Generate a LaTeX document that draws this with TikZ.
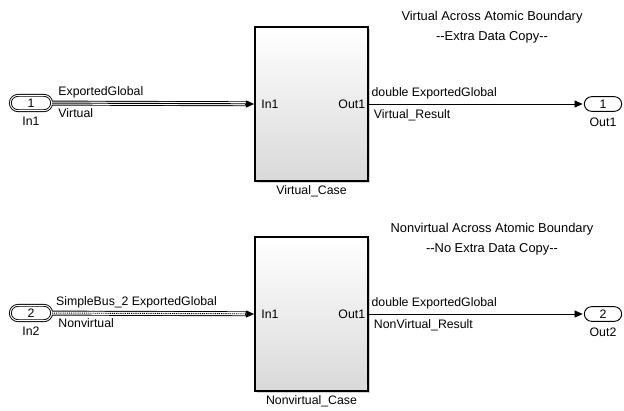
\documentclass[tikz,border=0pt]{standalone}
\usepackage{fontspec}
\setmainfont{Liberation Sans}
\usetikzlibrary{arrows.meta,positioning,shapes.misc,shadows}

\begin{document}
\begin{tikzpicture} [
        x=0.03cm, y=-0.03cm,
        every node/.style={font=\fontsize{10.5}{12}\selectfont, inner sep=1pt},
        subsys/.style={draw=black, line width=1.5pt, minimum width=3.39cm, minimum height=4.62cm,
            top color=white, bottom color=black!15,
            drop shadow={shadow xshift=1.5pt, shadow yshift=-1.5pt, opacity=0.35}},
        inport/.style={rounded rectangle, draw=black, double=white, double distance=0.8pt,
            line width=0.8pt, minimum width=1.24cm, minimum height=0.46cm, fill=white, inner sep=0pt},
        outport/.style={rounded rectangle, draw=black, line width=0.8pt,
            minimum width=1.12cm, minimum height=0.44cm, fill=white, inner sep=0pt},
        sig/.style={-{Triangle[length=7pt,width=6pt]}, line width=0.7pt, shorten >=1pt},
        tip/.style={-{Triangle[length=7pt,width=6pt]}, line width=0.7pt},
        busout/.style={line width=4.2pt, shorten >=5pt},
        busin/.style={draw=white, line width=2.6pt, shorten >=5pt},
        vcore/.style={line width=0.8pt, shorten >=5pt},
        nvcore/.style={line width=0.8pt, shorten >=5pt, dash pattern=on 0.8pt off 0.8pt},
        note/.style={align=center, font=\fontsize{11}{17}\selectfont}
    ]
    \useasboundingbox (0,0) rectangle (624,410);

    % subsystems
    \node[subsys] (vc)  at (311.5,104) {};
    \node[subsys] (nvc) at (311.5,314) {};
    \node[below=2pt of vc]  (vcname)  {Virtual\_Case};
    \node[below=2pt of nvc] (nvcname) {Nonvirtual\_Case};
    \node[anchor=west] (vcin)   at ([xshift=5pt]vc.west)   {In1};
    \node[anchor=east] (vcout)  at ([xshift=-2pt]vc.east)  {Out1};
    \node[anchor=west] (nvcin)  at ([xshift=5pt]nvc.west)  {In1};
    \node[anchor=east] (nvcout) at ([xshift=-2pt]nvc.east) {Out1};

    % ports
    \node[inport]  (in1)  at (31,103)  {1};
    \node[inport]  (in2)  at (31,313)  {2};
    \node[outport] (out1) at (603,104) {1};
    \node[outport] (out2) at (603,314) {2};
    \node[below=4pt of in1]  (in1name)  {In1};
    \node[below=4pt of in2]  (in2name)  {In2};
    \node[below=4pt of out1] (out1name) {Out1};
    \node[below=4pt of out2] (out2name) {Out2};

    % notes
    \node[note] (vnote)  at (492,27)  {Virtual Across Atomic Boundary\\-{}-Extra Data Copy-{}-};
    \node[note] (nvnote) at (492,239) {Nonvirtual Across Atomic Boundary\\-{}-No Extra Data Copy-{}-};

    % virtual bus
    \draw[busout] (in1) -- (vc);
    \draw[busin]  (in1) -- (vc);
    \draw[vcore]  (in1) -- node[at start, above right, xshift=4pt, yshift=3pt] {ExportedGlobal}
                             node[at start, below right, xshift=4pt, yshift=-3pt] {Virtual} (vc);
    \draw[tip] ([xshift=-8pt]vc.west) -- (vc.west);

    % nonvirtual bus
    \draw[busout] (in2) -- (nvc);
    \draw[busin]  (in2) -- (nvc);
    \draw[nvcore] (in2) -- node[at start, above right, xshift=2pt, yshift=3pt] {SimpleBus\_2 ExportedGlobal}
                             node[at start, below right, xshift=4pt, yshift=-3pt] {Nonvirtual} (nvc);
    \draw[tip] ([xshift=-8pt]nvc.west) -- (nvc.west);

    % outputs
    \draw[sig] (vc)  -- node[at start, above right, xshift=1pt, yshift=3pt] {double ExportedGlobal}
                        node[at start, below right, xshift=3pt, yshift=-3pt] {Virtual\_Result} (out1);
    \draw[sig] (nvc) -- node[at start, above right, xshift=1pt, yshift=3pt] {double ExportedGlobal}
                        node[at start, below right, xshift=3pt, yshift=-3pt] {NonVirtual\_Result} (out2);
\end{tikzpicture}
\end{document}
